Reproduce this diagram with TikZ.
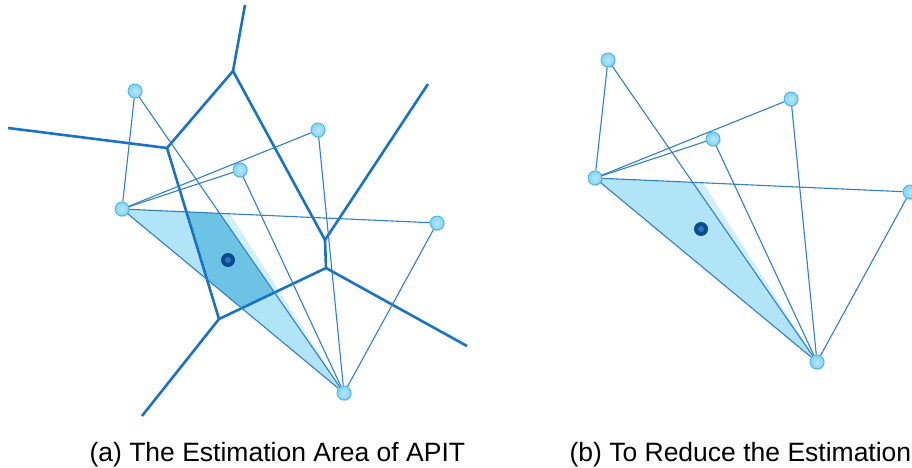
\documentclass[tikz,border=0pt]{standalone}
\usepackage{fontspec}
\setmainfont{Liberation Sans}
\usetikzlibrary{backgrounds,shadows}
\definecolor{linkblue}{HTML}{2F80C8}
\definecolor{cellblue}{HTML}{1A72C4}
\definecolor{areablue}{HTML}{B2E4F7}
\definecolor{overlapblue}{HTML}{6DC3E3}
\definecolor{dotblue}{HTML}{0C4C8E}
\definecolor{anchorblue}{HTML}{80D4F5}
\definecolor{rimblue}{HTML}{45B3E4}
\tikzset{
  anchornode/.style={circle, inner sep=0pt, minimum size=14pt, draw=rimblue, line width=0.8pt,
    inner color=white!45!anchorblue, outer color=anchorblue,
    drop shadow={opacity=0.25, shadow xshift=0.8pt, shadow yshift=-1.2pt}},
  targetdot/.style={circle, inner sep=0pt, minimum size=14pt, fill=dotblue},
  link/.style={draw=linkblue, line width=1.1pt},
  cell/.style={draw=cellblue, line width=2.6pt, line join=round},
  caption/.style={anchor=base west, font=\fontsize{26.5}{30}\selectfont, text=black}
}
\begin{document}
\begin{tikzpicture}[x=1pt,y=-1pt]
  \useasboundingbox (0,0) rectangle (912,468);
  \node[anchornode] (a1) at (135,91) {};
  \node[anchornode] (a2) at (122,209) {};
  \node[anchornode] (a3) at (240,170) {};
  \node[anchornode] (a4) at (318,130) {};
  \node[anchornode] (a5) at (437,223) {};
  \node[anchornode] (a6) at (344,393) {};
  \node[targetdot] (at) at (228,260) {};
  \fill[linkblue!80!dotblue] (at) circle (3pt);
  \coordinate (v1) at (233,71);
  \coordinate (v2) at (167,148);
  \coordinate (v3) at (325,240);
  \coordinate (v4) at (326,268);
  \coordinate (v5) at (219,319);
  \coordinate (r1) at (245,5);
  \coordinate (r2) at (8,128);
  \coordinate (r3) at (428,84);
  \coordinate (r4) at (467,346);
  \coordinate (r5) at (142,416);
  \begin{pgfonlayer}{background}
    \coordinate (ax) at (intersection of a1.center--a6.center and a2.center--a5.center);
    \fill[areablue!60] (ax) -- ([xshift=10pt]ax) -- (a6.center) -- cycle;
    \fill[areablue] (a2.center) -- (ax) -- (a6.center) -- cycle;
    \begin{scope}
      \clip (a2.center) -- (ax) -- (a6.center) -- cycle;
      \fill[overlapblue] (v2) -- (v1) -- (v3) -- (v4) -- (v5) -- cycle;
    \end{scope}
    \draw[cell] (r1) -- (v1) -- (v2) -- (r2);
    \draw[cell] (v1) -- (v3) -- (r3);
    \draw[cell] (v3) -- (v4) -- (r4);
    \draw[cell] (v4) -- (v5) -- (r5);
    \draw[cell] (v5) -- (v2);
  \end{pgfonlayer}
  \draw[link] (a1) -- (a2);
  \draw[link] (a1) -- (a6);
  \draw[link] (a2) -- (a3);
  \draw[link] (a2) -- (a4);
  \draw[link] (a2) -- (a5);
  \draw[link] (a2) -- (a6);
  \draw[link] (a3) -- (a6);
  \draw[link] (a4) -- (a6);
  \draw[link] (a5) -- (a6);
  \begin{scope}[shift={(473,-31)}]
    \node[anchornode] (b1) at (135,91) {};
    \node[anchornode] (b2) at (122,209) {};
    \node[anchornode] (b3) at (240,170) {};
    \node[anchornode] (b4) at (318,130) {};
    \node[anchornode] (b5) at (437,223) {};
    \node[anchornode] (b6) at (344,393) {};
    \node[targetdot] (bt) at (228,260) {};
    \fill[linkblue!80!dotblue] (bt) circle (3pt);
    \begin{pgfonlayer}{background}
      \coordinate (bx) at (intersection of b1.center--b6.center and b2.center--b5.center);
      \fill[areablue!60] (bx) -- ([xshift=10pt]bx) -- (b6.center) -- cycle;
      \fill[areablue] (b2.center) -- (bx) -- (b6.center) -- cycle;
    \end{pgfonlayer}
    \draw[link] (b1) -- (b2);
    \draw[link] (b1) -- (b6);
    \draw[link] (b2) -- (b3);
    \draw[link] (b2) -- (b4);
    \draw[link] (b2) -- (b5);
    \draw[link] (b2) -- (b6);
    \draw[link] (b3) -- (b6);
    \draw[link] (b4) -- (b6);
    \draw[link] (b5) -- (b6);
  \end{scope}
  \node[caption] (capa) at (86,461) {(a) The Estimation Area of APIT};
  \node[caption] (capb) at (566,461) {(b) To Reduce the Estimation};
\end{tikzpicture}
\end{document}
